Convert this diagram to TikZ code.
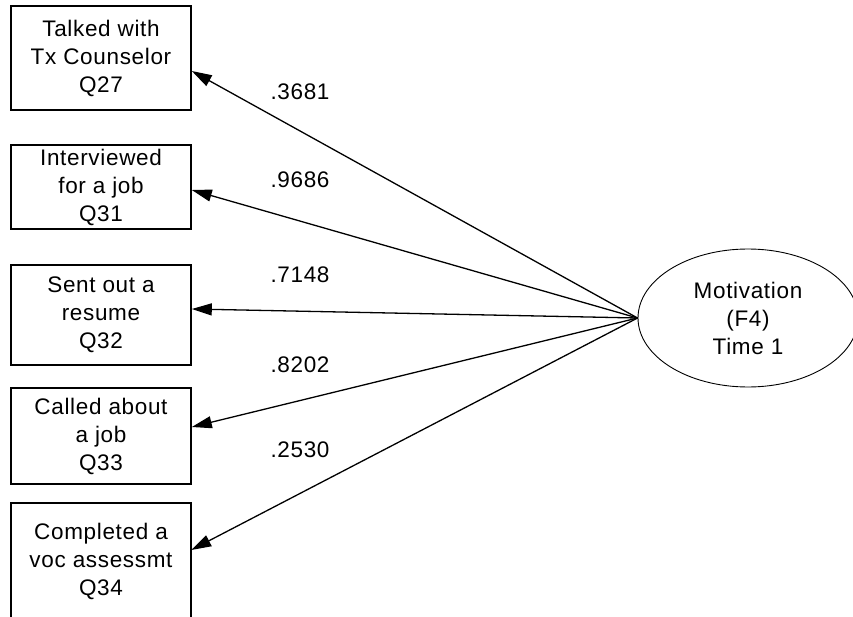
\documentclass[tikz,border=0pt]{standalone}
\usepackage{fontspec}
\setmainfont[LetterSpace=3]{Liberation Sans}
\usetikzlibrary{arrows.meta,shapes.geometric}
\begin{document}
\begin{tikzpicture}[x=1pt,y=-1pt,
  every node/.style={font=\fontsize{22.5}{28}\selectfont, align=center, inner sep=0pt},
  itembox/.style={draw, line width=1.6pt, minimum width=180pt},
  openbox/.style={minimum width=180pt},
  factor/.style={ellipse, draw, line width=0.9pt, minimum width=220pt, minimum height=138pt},
  loading/.style={line width=1.3pt, -{Triangle[length=20pt,width=12pt]}},
  coef/.style={}]
  \clip (0,0) rectangle (853,617);
  \fill[white] (0,0) rectangle (853,617);

  % observed indicators
  \node[itembox, minimum height=104pt] (b1) at (101,58)  {Talked with\\Tx Counselor\\Q27};
  \node[itembox, minimum height=84pt]  (b2) at (101,187) {Interviewed\\for a job\\Q31};
  \node[itembox, minimum height=100pt] (b3) at (101,315) {Sent out a\\resume\\Q32};
  \node[itembox, minimum height=96pt]  (b4) at (101,436) {Called about\\a job\\Q33};
  \node[openbox, minimum height=116pt] (b5) at (101,561) {Completed a\\voc assessmt\\Q34};
  \draw[line width=1.6pt] (b5.south west) -- (b5.north west) -- (b5.north east) -- (b5.south east);

  % latent factor
  \node[factor] (f4) at (748,318) {Motivation\\(F4)\\Time 1};

  % factor loadings
  \draw[loading] (f4.west) -- ([yshift=-13pt]b1.east);
  \draw[loading] (f4.west) -- ([yshift=-3pt]b2.east);
  \draw[loading] (f4.west) -- ([yshift=6pt]b3.east);
  \draw[loading] (f4.west) -- ([yshift=9pt]b4.east);
  \draw[loading] (f4.west) -- ([yshift=11pt]b5.east);

  \node[coef] (l1) at (300,92)  {.3681};
  \node[coef] (l2) at (300,180) {.9686};
  \node[coef] (l3) at (300,275) {.7148};
  \node[coef] (l4) at (300,365) {.8202};
  \node[coef] (l5) at (300,450) {.2530};
\end{tikzpicture}
\end{document}
